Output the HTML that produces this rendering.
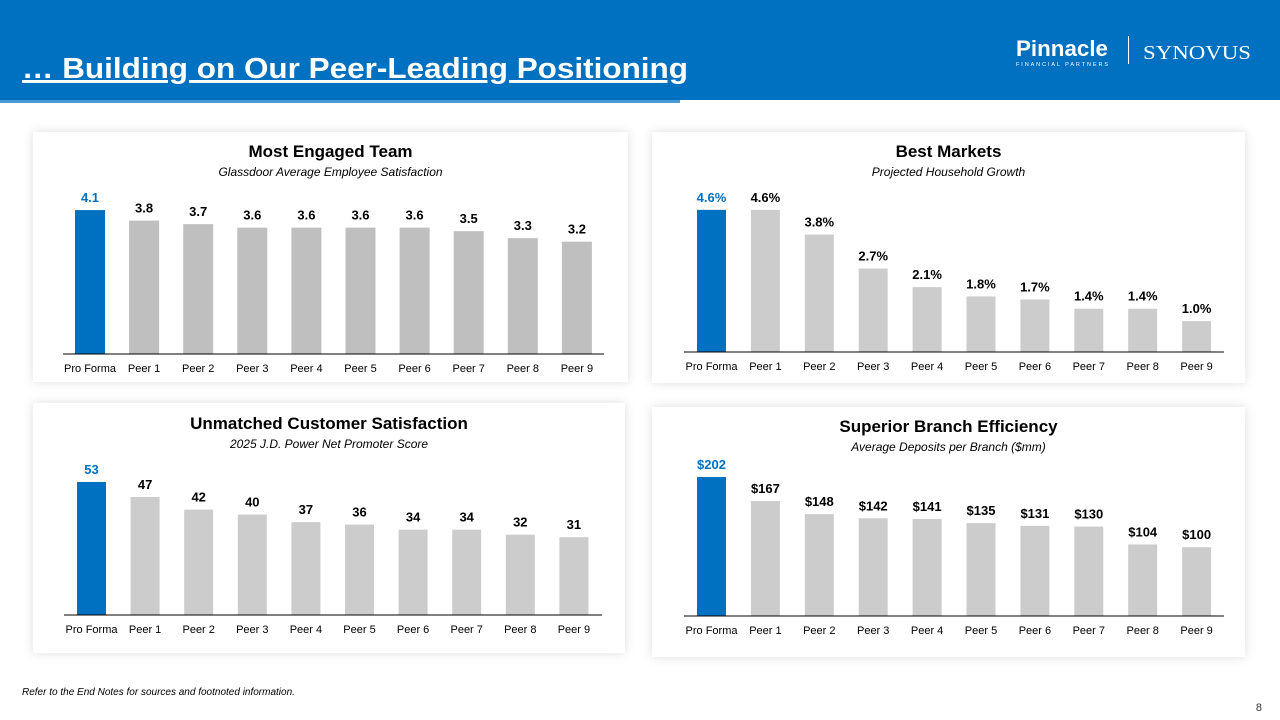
<!DOCTYPE html>
<html><head><meta charset="utf-8"><style>
body{margin:0;width:1280px;height:720px;overflow:hidden;background:#fff;font-family:"Liberation Sans",sans-serif}
svg{display:block}
</style></head><body>
<svg id="s" width="1280" height="720" viewBox="0 0 1280 720" xmlns="http://www.w3.org/2000/svg">
<defs><filter id="sh" x="-5%" y="-10%" width="110%" height="120%"><feDropShadow dx="0" dy="0" stdDeviation="5" flood-color="#000" flood-opacity="0.13"/></filter></defs>
<rect x="0" y="0" width="1280" height="100" fill="#0070C0"/>
<rect x="0" y="100" width="680" height="3" fill="#4a9ad6"/>
<text x="22" y="78" fill="#fff" font-size="29" font-weight="bold" text-decoration="underline" textLength="666" lengthAdjust="spacingAndGlyphs">… Building on Our Peer-Leading Positioning</text>
<g>
<text x="1016" y="56" fill="#fff" font-size="22" font-weight="bold" font-family="Liberation Sans Narrow, Liberation Sans, sans-serif" textLength="92" lengthAdjust="spacingAndGlyphs">Pinnacle</text>
<text x="1016" y="66" fill="#fff" font-size="5.5" textLength="92" lengthAdjust="spacing">FINANCIAL PARTNERS</text>
</g>
<rect x="1128" y="36" width="1" height="28" fill="#fff"/>
<text x="1143" y="59" fill="#fff" font-size="20" font-family="Liberation Serif, serif" textLength="108" lengthAdjust="spacingAndGlyphs">SYNOVUS</text>
<g id="charts"></g>
<text x="22" y="695" font-size="10" font-style="italic" fill="#000">Refer to the End Notes for sources and footnoted information.</text>
<text x="1262" y="711" font-size="11" fill="#333" text-anchor="end">8</text>
</svg>
<script>
const categories=["Pro Forma","Peer 1","Peer 2","Peer 3","Peer 4","Peer 5","Peer 6","Peer 7","Peer 8","Peer 9"];
const engagedValues=[4.1,3.8,3.7,3.6,3.6,3.6,3.6,3.5,3.3,3.2];
const engagedLabels=["4.1","3.8","3.7","3.6","3.6","3.6","3.6","3.5","3.3","3.2"];
const marketsValues=[4.6,4.6,3.8,2.7,2.1,1.8,1.7,1.4,1.4,1.0];
const marketsLabels=["4.6%","4.6%","3.8%","2.7%","2.1%","1.8%","1.7%","1.4%","1.4%","1.0%"];
const npsValues=[53,47,42,40,37,36,34,34,32,31];
const npsLabels=["53","47","42","40","37","36","34","34","32","31"];
const depositValues=[202,167,148,142,141,135,131,130,104,100];
const depositLabels=["$202","$167","$148","$142","$141","$135","$131","$130","$104","$100"];

const NS="http://www.w3.org/2000/svg";
const root=document.getElementById('charts');
function mk(tag,attrs,parent,txt){const e=document.createElementNS(NS,tag);for(const k in attrs)e.setAttribute(k,attrs[k]);if(txt!==undefined)e.textContent=txt;parent.appendChild(e);return e;}

function drawChart(cfg,values,labels){
  const g=mk('g',{},root);
  
  
  const p=mk('rect',{x:cfg.px,y:cfg.py,width:cfg.pw,height:cfg.ph,fill:'#fff',filter:'url(#sh)'},g);
  
  
  const cx=cfg.px+cfg.pw/2;
  const t=mk('text',{x:cx,y:cfg.ty,'text-anchor':'middle','font-size':17,'font-weight':'bold',fill:'#000'},g,cfg.title);
  
  
  const st=mk('text',{x:cx,y:cfg.ty+19,'text-anchor':'middle','font-size':12,'font-style':'italic',fill:'#000'},g,cfg.sub);
  
  
  const yOf=v=>cfg.base-v*cfg.scale;
  const xOf=i=>cfg.x0+i*cfg.step;
  values.forEach((v,i)=>{
    const y=yOf(v);
    const b=mk('rect',{x:xOf(i),y:y,width:cfg.bw,height:cfg.base-y,fill:i===0?'#0070C0':cfg.gray},g);
    
    
    const l=mk('text',{x:xOf(i)+cfg.bw/2,y:y-8,'text-anchor':'middle','font-size':13,'font-weight':'bold',fill:i===0?'#0070C0':'#000'},g,labels[i]);
    
    
    const c=mk('text',{x:xOf(i)+cfg.bw/2,y:cfg.base+18,'text-anchor':'middle','font-size':11,fill:'#000'},g,categories[i]);
    
    
  });
  const ax=mk('line',{x1:cfg.ax1,x2:cfg.ax2,y1:cfg.base,y2:cfg.base,stroke:'#000','stroke-width':1},g);
  
  
}
drawChart({name:'engaged-team-chart',title:'Most Engaged Team',sub:'Glassdoor Average Employee Satisfaction',px:33,py:132,pw:595,ph:250,ty:157,base:354,scale:35.1,x0:75,step:54.1,bw:30,ax1:63,ax2:604,gray:'#BFBFBF'},engagedValues,engagedLabels);
drawChart({name:'best-markets-chart',title:'Best Markets',sub:'Projected Household Growth',px:652,py:132,pw:593,ph:251,ty:157,base:352,scale:30.9,x0:697,step:53.9,bw:29,ax1:684,ax2:1224,gray:'#CCCCCC'},marketsValues,marketsLabels);
drawChart({name:'customer-satisfaction-chart',title:'Unmatched Customer Satisfaction',sub:'2025 J.D. Power Net Promoter Score',px:33,py:403,pw:592,ph:250,ty:429,base:615,scale:2.51,x0:77,step:53.6,bw:29,ax1:64,ax2:602,gray:'#CCCCCC'},npsValues,npsLabels);
drawChart({name:'branch-efficiency-chart',title:'Superior Branch Efficiency',sub:'Average Deposits per Branch ($mm)',px:652,py:407,pw:593,ph:250,ty:432,base:616,scale:0.688,x0:697,step:53.9,bw:29,ax1:684,ax2:1224,gray:'#CCCCCC'},depositValues,depositLabels);
</script>
</body></html>
